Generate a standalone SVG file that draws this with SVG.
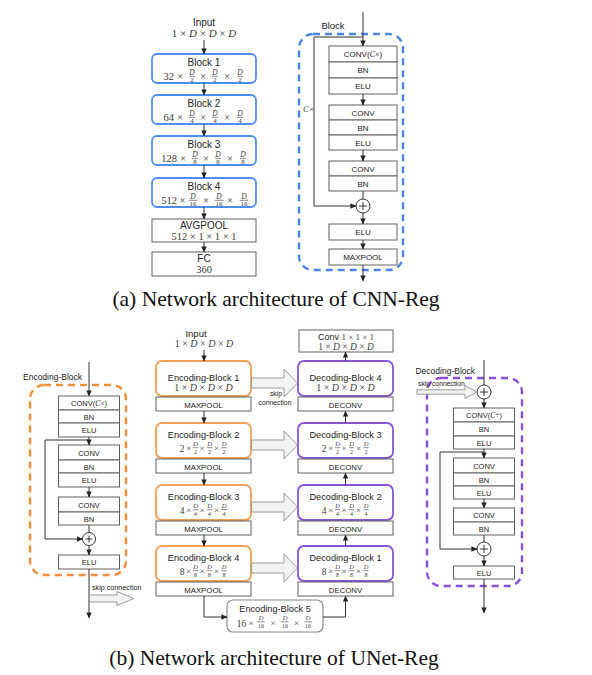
<svg xmlns="http://www.w3.org/2000/svg" xmlns:xlink="http://www.w3.org/1999/xlink" width="592" height="675" viewBox="0 0 592 675">
<style>
.s{font-family:"Liberation Sans",Arial,sans-serif;fill:#222;text-anchor:middle}
.m{font-family:"Liberation Serif","Times New Roman",serif;fill:#3c3c3c;text-anchor:middle}
.i{font-style:italic}
.bx{fill:#fff;stroke:#606060;stroke-width:1}
.bl{fill:#fff;stroke:#4d8ff0;stroke-width:1.8}
.or{fill:#fff;stroke:#f2a055;stroke-width:1.8}
.pu{fill:#fff;stroke:#8755d6;stroke-width:1.8}
.g5{fill:#fff;stroke:#8a8a8a;stroke-width:1.2}
.ln{fill:none;stroke:#333;stroke-width:1}
.ar{fill:none;stroke:#333;stroke-width:1;marker-end:url(#ah)}
.sk{fill:#f3f3f3;stroke:#9a9a9a;stroke-width:1}
.fl{stroke:#3c3c3c;stroke-width:0.6}
.dash{fill:none;stroke-width:2.4;stroke-dasharray:7 5}
.cap{font-family:"Liberation Serif","Times New Roman",serif;fill:#111;font-size:21.5px;text-anchor:middle}
</style>
<defs>
<marker id="ah" markerWidth="6" markerHeight="6" refX="5.6" refY="3" orient="auto" markerUnits="userSpaceOnUse"><path d="M0,0.3 L6,3 L0,5.7z" fill="#222"/></marker>
<g id="t2"><text class="m i" y="-1.8" font-size="7.5">D</text><line class="fl" x1="-3" x2="3"/><text class="m" y="5.8" font-size="7">2</text></g>
<g id="t4"><text class="m i" y="-1.8" font-size="7.5">D</text><line class="fl" x1="-3" x2="3"/><text class="m" y="5.8" font-size="7">4</text></g>
<g id="t8"><text class="m i" y="-1.8" font-size="7.5">D</text><line class="fl" x1="-3" x2="3"/><text class="m" y="5.8" font-size="7">8</text></g>
<g id="t16"><text class="m i" y="-1.8" font-size="7.5">D</text><line class="fl" x1="-4.5" x2="4.5"/><text class="m" y="5.8" font-size="7">16</text></g>
<g id="b2"><text class="m i" y="-1.6" font-size="6.5">D</text><line class="fl" x1="-2.6" x2="2.6"/><text class="m" y="6" font-size="6">2</text></g>
<g id="b4"><text class="m i" y="-1.6" font-size="6.5">D</text><line class="fl" x1="-2.6" x2="2.6"/><text class="m" y="6" font-size="6">4</text></g>
<g id="b8"><text class="m i" y="-1.6" font-size="6.5">D</text><line class="fl" x1="-2.6" x2="2.6"/><text class="m" y="6" font-size="6">8</text></g>
<g id="b16"><text class="m i" y="-1.6" font-size="6.5">D</text><line class="fl" x1="-3.6" x2="3.6"/><text class="m" y="6" font-size="6">16</text></g>
<g id="q2"><text class="m" x="-22" y="28.5" font-size="9.5">2</text><text class="m" x="-15.5" y="27.5" font-size="9">×</text><use xlink:href="#b2" x="-8.5" y="24.7"/><text class="m" x="-2" y="27.5" font-size="9">×</text><use xlink:href="#b2" x="5.5" y="24.7"/><text class="m" x="12.5" y="27.5" font-size="9">×</text><use xlink:href="#b2" x="20" y="24.7"/></g>
<g id="q4"><text class="m" x="-22" y="28.5" font-size="9.5">4</text><text class="m" x="-15.5" y="27.5" font-size="9">×</text><use xlink:href="#b4" x="-8.5" y="24.7"/><text class="m" x="-2" y="27.5" font-size="9">×</text><use xlink:href="#b4" x="5.5" y="24.7"/><text class="m" x="12.5" y="27.5" font-size="9">×</text><use xlink:href="#b4" x="20" y="24.7"/></g>
<g id="q8"><text class="m" x="-22" y="28.5" font-size="9.5">8</text><text class="m" x="-15.5" y="27.5" font-size="9">×</text><use xlink:href="#b8" x="-8.5" y="24.7"/><text class="m" x="-2" y="27.5" font-size="9">×</text><use xlink:href="#b8" x="5.5" y="24.7"/><text class="m" x="12.5" y="27.5" font-size="9">×</text><use xlink:href="#b8" x="20" y="24.7"/></g>
</defs>
<rect width="592" height="675" fill="#fff"/>

<!-- ===== (a) CNN-Reg ===== -->
<g id="cnn-input">
<text class="s" x="204" y="26" font-size="10">Input</text>
<text class="m" x="204" y="37" font-size="11">1 × <tspan class="i">D</tspan> × <tspan class="i">D</tspan> × <tspan class="i">D</tspan></text>
</g>
<g id="cnn-block1">
<rect class="bl" x="152" y="54" width="104" height="29" rx="5"/>
<text class="s" x="204" y="66" font-size="10">Block 1</text>
<text class="m" x="174" y="79.5" font-size="10.5" style="text-anchor:end">32</text>
<text class="m" x="180" y="79.5" font-size="10">×</text><use xlink:href="#t2" x="192" y="76.3"/>
<text class="m" x="203" y="79.5" font-size="10">×</text><use xlink:href="#t2" x="215" y="76.3"/>
<text class="m" x="227" y="79.5" font-size="10">×</text><use xlink:href="#t2" x="240" y="76.3"/>
</g>
<g id="cnn-block2">
<rect class="bl" x="152" y="95" width="104" height="29" rx="5"/>
<text class="s" x="204" y="107" font-size="10">Block 2</text>
<text class="m" x="174" y="120.5" font-size="10.5" style="text-anchor:end">64</text>
<text class="m" x="180" y="120.5" font-size="10">×</text><use xlink:href="#t4" x="192" y="117.3"/>
<text class="m" x="203" y="120.5" font-size="10">×</text><use xlink:href="#t4" x="215" y="117.3"/>
<text class="m" x="227" y="120.5" font-size="10">×</text><use xlink:href="#t4" x="240" y="117.3"/>
</g>
<g id="cnn-block3">
<rect class="bl" x="152" y="136" width="104" height="29" rx="5"/>
<text class="s" x="204" y="148" font-size="10">Block 3</text>
<text class="m" x="177" y="161.5" font-size="10.5" style="text-anchor:end">128</text>
<text class="m" x="183" y="161.5" font-size="10">×</text><use xlink:href="#t8" x="195" y="158.3"/>
<text class="m" x="206" y="161.5" font-size="10">×</text><use xlink:href="#t8" x="218" y="158.3"/>
<text class="m" x="230" y="161.5" font-size="10">×</text><use xlink:href="#t8" x="243" y="158.3"/>
</g>
<g id="cnn-block4">
<rect class="bl" x="152" y="178" width="104" height="29" rx="5"/>
<text class="s" x="204" y="190" font-size="10">Block 4</text>
<text class="m" x="177" y="203.5" font-size="10.5" style="text-anchor:end">512</text>
<text class="m" x="182.5" y="203.5" font-size="10">×</text><use xlink:href="#t16" x="193" y="200.3"/>
<text class="m" x="206" y="203.5" font-size="10">×</text><use xlink:href="#t16" x="219" y="200.3"/>
<text class="m" x="230" y="203.5" font-size="10">×</text><use xlink:href="#t16" x="244" y="200.3"/>
</g>
<g id="cnn-avgpool">
<rect class="bx" x="152" y="219" width="104" height="23"/>
<text class="s" x="204" y="229" font-size="10">AVGPOOL</text>
<text class="m" x="204" y="240" font-size="10.5">512 × 1 × 1 × 1</text>
</g>
<g id="cnn-fc">
<rect class="bx" x="152" y="252" width="104" height="24"/>
<text class="s" x="204" y="262" font-size="10">FC</text>
<text class="m" x="204" y="273" font-size="10.5">360</text>
</g>

<!-- Block detail -->
<g id="block-detail">
<rect class="dash" x="299" y="34" width="104" height="236" rx="14" stroke="#4a86e8"/>
<text class="s" x="333" y="28.5" font-size="9.5">Block</text>
<text class="m" x="303" y="112" font-size="9" style="text-anchor:start"><tspan class="i">C</tspan>×</text>
</g>
<g id="bd-conv1">
<rect class="bx" x="329" y="46" width="68" height="16"/><text class="s" x="363" y="57" font-size="8">CONV(<tspan class="m i" style="fill:#222">C</tspan><tspan class="m" style="fill:#222">×</tspan>)</text>
<rect class="bx" x="329" y="62" width="68" height="16"/><text class="s" x="363" y="73" font-size="8">BN</text>
<rect class="bx" x="329" y="78" width="68" height="16"/><text class="s" x="363" y="89" font-size="8">ELU</text>
</g>
<g id="bd-conv2">
<rect class="bx" x="329" y="105" width="68" height="15"/><text class="s" x="363" y="115.5" font-size="8">CONV</text>
<rect class="bx" x="329" y="120" width="68" height="15"/><text class="s" x="363" y="130.5" font-size="8">BN</text>
<rect class="bx" x="329" y="135" width="68" height="15"/><text class="s" x="363" y="145.5" font-size="8">ELU</text>
</g>
<g id="bd-conv3">
<rect class="bx" x="329" y="161" width="68" height="15"/><text class="s" x="363" y="171.5" font-size="8">CONV</text>
<rect class="bx" x="329" y="176" width="68" height="15"/><text class="s" x="363" y="186.5" font-size="8">BN</text>
</g>
<g id="bd-add">
<circle cx="363" cy="206" r="7" fill="#fff" stroke="#333" stroke-width="1"/>
<path class="ln" d="M359,206 H367 M363,202 V210"/>
</g>
<g id="bd-elu">
<rect class="bx" x="329" y="224" width="68" height="16"/><text class="s" x="363" y="235" font-size="8">ELU</text>
</g>
<g id="bd-maxpool">
<rect class="bx" x="329" y="249" width="68" height="16"/><text class="s" x="363" y="260" font-size="8">MAXPOOL</text>
</g>

<!-- ===== (b) UNet-Reg middle ===== -->
<g id="unet-input">
<text class="s" x="196" y="337" font-size="9.5">Input</text>
<text class="m" x="204" y="347" font-size="10">1 × <tspan class="i">D</tspan> × <tspan class="i">D</tspan> × <tspan class="i">D</tspan></text>
</g>
<g id="enc1">
<rect class="or" x="156" y="361" width="95" height="35" rx="6"/>
<text class="s" x="203.5" y="381" font-size="9.2">Encoding-Block 1</text>
<text class="m" x="203.5" y="391" font-size="10">1 × <tspan class="i">D</tspan> × <tspan class="i">D</tspan> × <tspan class="i">D</tspan></text>
<rect class="bx" x="156" y="397" width="95" height="14"/><text class="s" x="203.5" y="407.5" font-size="7.8">MAXPOOL</text>
</g>
<g id="enc2">
<rect class="or" x="156" y="423" width="95" height="35" rx="6"/>
<text class="s" x="203.5" y="437.5" font-size="9.2">Encoding-Block 2</text>
<use xlink:href="#q2" x="204" y="423"/>
<rect class="bx" x="156" y="459" width="95" height="14"/><text class="s" x="203.5" y="469.5" font-size="7.8">MAXPOOL</text>
</g>
<g id="enc3">
<rect class="or" x="156" y="485" width="95" height="35" rx="6"/>
<text class="s" x="203.5" y="499.5" font-size="9.2">Encoding-Block 3</text>
<use xlink:href="#q4" x="204" y="485"/>
<rect class="bx" x="156" y="521" width="95" height="14"/><text class="s" x="203.5" y="531.5" font-size="7.8">MAXPOOL</text>
</g>
<g id="enc4">
<rect class="or" x="156" y="546" width="95" height="35" rx="6"/>
<text class="s" x="203.5" y="560.5" font-size="9.2">Encoding-Block 4</text>
<use xlink:href="#q8" x="204" y="546"/>
<rect class="bx" x="156" y="582" width="95" height="14"/><text class="s" x="203.5" y="592.5" font-size="7.8">MAXPOOL</text>
</g>
<g id="enc5">
<rect class="g5" x="227" y="600" width="96" height="32" rx="6"/>
<text class="s" x="275" y="611.5" font-size="9.2">Encoding-Block 5</text>
<text class="m" x="241.5" y="627" font-size="9.5">16</text>
<text class="m" x="251" y="626" font-size="9">×</text><use xlink:href="#b16" x="261" y="621.8"/>
<text class="m" x="273" y="626" font-size="9">×</text><use xlink:href="#b16" x="285" y="621.8"/>
<text class="m" x="296.5" y="626" font-size="9">×</text><use xlink:href="#b16" x="308" y="621.8"/>
</g>
<g id="conv111">
<rect class="bx" x="299" y="330" width="94" height="22"/>
<text class="s" x="346" y="340" font-size="9">Conv <tspan class="m" style="fill:#3c3c3c">1 × 1 × 1</tspan></text>
<text class="m" x="346" y="350" font-size="9.5">1 × <tspan class="i">D</tspan> × <tspan class="i">D</tspan> × <tspan class="i">D</tspan></text>
</g>
<g id="dec4">
<rect class="pu" x="298" y="361" width="95" height="35" rx="6"/>
<text class="s" x="345.5" y="381" font-size="9.2">Decoding-Block 4</text>
<text class="m" x="345.5" y="391" font-size="10">1 × <tspan class="i">D</tspan> × <tspan class="i">D</tspan> × <tspan class="i">D</tspan></text>
<rect class="bx" x="298" y="397" width="95" height="14"/><text class="s" x="345.5" y="407.5" font-size="7.8">DECONV</text>
</g>
<g id="dec3">
<rect class="pu" x="298" y="423" width="95" height="35" rx="6"/>
<text class="s" x="345.5" y="437.5" font-size="9.2">Decoding-Block 3</text>
<use xlink:href="#q2" x="346" y="423"/>
<rect class="bx" x="298" y="459" width="95" height="14"/><text class="s" x="345.5" y="469.5" font-size="7.8">DECONV</text>
</g>
<g id="dec2">
<rect class="pu" x="298" y="485" width="95" height="35" rx="6"/>
<text class="s" x="345.5" y="499.5" font-size="9.2">Decoding-Block 2</text>
<use xlink:href="#q4" x="346" y="485"/>
<rect class="bx" x="298" y="521" width="95" height="14"/><text class="s" x="345.5" y="531.5" font-size="7.8">DECONV</text>
</g>
<g id="dec1">
<rect class="pu" x="298" y="546" width="95" height="35" rx="6"/>
<text class="s" x="345.5" y="560.5" font-size="9.2">Decoding-Block 1</text>
<use xlink:href="#q8" x="346" y="546"/>
<rect class="bx" x="298" y="582" width="95" height="14"/><text class="s" x="345.5" y="592.5" font-size="7.8">DECONV</text>
</g>

<!-- Encoding-Block detail -->
<g id="enc-detail">
<rect class="dash" x="30" y="385" width="96" height="190" rx="14" stroke="#f0903c"/>
<text class="s" x="23" y="380" font-size="8.5" style="text-anchor:start">Encoding-Block</text>
<rect class="bx" x="58.5" y="396" width="61" height="14"/><text class="s" x="89" y="406" font-size="7.5">CONV(<tspan class="m i" style="fill:#222">C</tspan><tspan class="m" style="fill:#222">×</tspan>)</text>
<rect class="bx" x="58.5" y="410" width="61" height="13"/><text class="s" x="89" y="419.5" font-size="7.5">BN</text>
<rect class="bx" x="58.5" y="423" width="61" height="14"/><text class="s" x="89" y="433" font-size="7.5">ELU</text>
<rect class="bx" x="58.5" y="445" width="61" height="15"/><text class="s" x="89" y="455.5" font-size="7.5">CONV</text>
<rect class="bx" x="58.5" y="460" width="61" height="13"/><text class="s" x="89" y="469.5" font-size="7.5">BN</text>
<rect class="bx" x="58.5" y="473" width="61" height="14"/><text class="s" x="89" y="483" font-size="7.5">ELU</text>
<rect class="bx" x="58.5" y="497" width="61" height="15"/><text class="s" x="89" y="507.5" font-size="7.5">CONV</text>
<rect class="bx" x="58.5" y="512" width="61" height="13"/><text class="s" x="89" y="521.5" font-size="7.5">BN</text>
<circle cx="89" cy="539" r="6.5" fill="#fff" stroke="#333" stroke-width="1"/>
<path class="ln" d="M85.5,539 H92.5 M89,535.5 V542.5"/>
<rect class="bx" x="58.5" y="555" width="61" height="14"/><text class="s" x="89" y="565" font-size="7.5">ELU</text>
<text class="s" x="92" y="590" font-size="7.2" style="text-anchor:start">skip connection</text>
</g>

<!-- Decoding-Block detail -->
<g id="dec-detail">
<rect class="dash" x="427" y="378" width="95" height="208" rx="14" stroke="#8a4fd8"/>
<text class="s" x="475" y="374" font-size="8.5" style="text-anchor:end">Decoding-Block</text>
<text class="s" x="418" y="386" font-size="6.8" style="text-anchor:start">skip connection</text>
<circle cx="484" cy="392" r="7" fill="#fff" stroke="#333" stroke-width="1"/>
<path class="ln" d="M480,392 H488 M484,388 V396"/>
<rect class="bx" x="453.5" y="408" width="61" height="14"/><text class="s" x="484" y="418" font-size="7.5">CONV(<tspan class="m i" style="fill:#222">C</tspan><tspan class="m" style="fill:#222">÷</tspan>)</text>
<rect class="bx" x="453.5" y="422" width="61" height="14"/><text class="s" x="484" y="432" font-size="7.5">BN</text>
<rect class="bx" x="453.5" y="436" width="61" height="13"/><text class="s" x="484" y="445.5" font-size="7.5">ELU</text>
<rect class="bx" x="453.5" y="458" width="61" height="15"/><text class="s" x="484" y="468.5" font-size="7.5">CONV</text>
<rect class="bx" x="453.5" y="473" width="61" height="13"/><text class="s" x="484" y="482.5" font-size="7.5">BN</text>
<rect class="bx" x="453.5" y="486" width="61" height="13"/><text class="s" x="484" y="495.5" font-size="7.5">ELU</text>
<rect class="bx" x="453.5" y="508" width="61" height="14"/><text class="s" x="484" y="518" font-size="7.5">CONV</text>
<rect class="bx" x="453.5" y="522" width="61" height="13"/><text class="s" x="484" y="531.5" font-size="7.5">BN</text>
<circle cx="484" cy="549" r="7" fill="#fff" stroke="#333" stroke-width="1"/>
<path class="ln" d="M480,549 H488 M484,545 V553"/>
<rect class="bx" x="453.5" y="566" width="61" height="13"/><text class="s" x="484" y="575.5" font-size="7.5">ELU</text>
</g>

<!-- connectors -->
<g id="connectors">
<!-- CNN-Reg -->
<path class="ar" d="M204,40 V54"/>
<path class="ar" d="M204,83 V95"/>
<path class="ar" d="M204,124 V136"/>
<path class="ar" d="M204,165 V178"/>
<path class="ar" d="M204,207 V219"/>
<path class="ar" d="M204,242 V252"/>
<path class="ar" d="M363,12 V46"/>
<path class="ar" d="M363,37 H314 V206 H356"/>
<path class="ar" d="M363,94 V105"/>
<path class="ar" d="M363,150 V161"/>
<path class="ln" d="M363,191 V199"/>
<path class="ar" d="M363,213 V224"/>
<path class="ar" d="M363,240 V249"/>
<path class="ar" d="M363,265 V281"/>
<!-- UNet middle -->
<path class="ar" d="M204,350 V361"/>
<path class="ar" d="M204,411 V423"/>
<path class="ar" d="M204,473 V485"/>
<path class="ar" d="M204,535 V546"/>
<path class="ar" d="M204,596 V617 H227"/>
<path class="ar" d="M323,617 H345.5 V596"/>
<path class="ar" d="M345.5,546 V535"/>
<path class="ar" d="M345.5,485 V473"/>
<path class="ar" d="M345.5,423 V411"/>
<path class="ar" d="M345.5,361 V352"/>
<path class="sk" d="M251.5,378 H284 V369 L297.5,383 L284,397 V388 H251.5 Z"/>
<path class="sk" d="M251.5,440 H284 V431 L297.5,445 L284,459 V450 H251.5 Z"/>
<path class="sk" d="M251.5,502 H284 V493 L297.5,507 L284,521 V512 H251.5 Z"/>
<path class="sk" d="M251.5,563 H284 V554 L297.5,568 L284,582 V573 H251.5 Z"/>
<text class="s" x="276" y="396" font-size="6.8">skip</text>
<text class="s" x="275" y="405" font-size="6.8">connection</text>
<!-- Encoding detail -->
<path class="ar" d="M89,362 V396"/>
<path class="ar" d="M89,437 V445"/>
<path class="ar" d="M89,440 H45 V539 H82.5"/>
<path class="ar" d="M89,487 V497"/>
<path class="ln" d="M89,525 V532.5"/>
<path class="ar" d="M89,545.5 V555"/>
<path class="ar" d="M89,569 V618"/>
<path class="sk" d="M89.5,595 H117 V591.5 L134,598.5 L117,605.5 V602 H89.5 Z"/>
<!-- Decoding detail -->
<path class="ln" d="M484,360 V385"/>
<path class="sk" d="M417,389.8 H465 V385.5 L477,392 L465,398.5 V394.2 H417 Z"/>
<path class="ar" d="M484,399 V408"/>
<path class="ar" d="M484,449 V458"/>
<path class="ar" d="M484,452 H440 V549 H477"/>
<path class="ar" d="M484,499 V508"/>
<path class="ln" d="M484,535 V542"/>
<path class="ar" d="M484,556 V566"/>
<path class="ar" d="M484,579 V613"/>
</g>

<text class="cap" x="276" y="306">(a) Network architecture of CNN-Reg</text>
<text class="cap" x="274" y="665">(b) Network architecture of UNet-Reg</text>
</svg>
